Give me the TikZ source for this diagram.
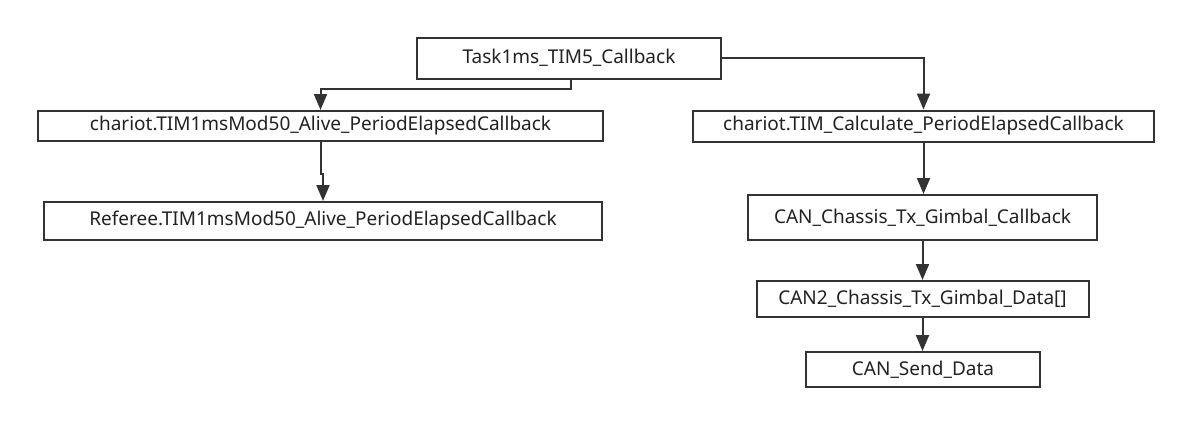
\documentclass[tikz,border=0pt]{standalone}
\usepackage{fontspec}
\setmainfont{Noto Sans}
\usetikzlibrary{arrows.meta}
\definecolor{ln}{HTML}{333333}
\definecolor{tx}{HTML}{222222}
\tikzset{
  box/.style={draw=ln, line width=2pt, fill=white, inner sep=0pt, text=tx, font=\fontsize{19}{21}\selectfont},
  arr/.style={draw=ln, line width=2pt, -{Triangle[length=16pt,width=13pt]}}
}
\begin{document}
\begin{tikzpicture}[x=1pt,y=1pt]
\useasboundingbox (0,0) rectangle (1190,-424);
\node[box, minimum width=304pt, minimum height=41pt] (task) at (569,-58) {Task1ms\_TIM5\_Callback};
\node[box, minimum width=565pt, minimum height=30pt] (cha) at (320.5,-126) {chariot.TIM1msMod50\_Alive\_PeriodElapsedCallback};
\node[box, minimum width=558pt, minimum height=38pt] (ref) at (323,-221) {Referee.TIM1msMod50\_Alive\_PeriodElapsedCallback};
\node[box, minimum width=461pt, minimum height=31pt] (calc) at (923.5,-126) {chariot.TIM\_Calculate\_PeriodElapsedCallback};
\node[box, minimum width=349pt, minimum height=45pt] (canc) at (922.5,-217.5) {CAN\_Chassis\_Tx\_Gimbal\_Callback};
\node[box, minimum width=332pt, minimum height=36pt] (can2) at (922.5,-299) {CAN2\_Chassis\_Tx\_Gimbal\_Data[]};
\node[box, minimum width=234pt, minimum height=35pt] (send) at (923,-369.5) {CAN\_Send\_Data};
\draw[arr] ([xshift=2pt]task.south) -- ++(0,-9) -| (cha.north);
\draw[arr] (cha.south) -- ++(0,-32) -| (ref.north);
\draw[arr] (task.east) -| (calc.north);
\draw[arr] (calc.south) -- (calc.south |- canc.north);
\draw[arr] (canc.south) -- (canc.south |- can2.north);
\draw[arr] (can2.south) -- (can2.south |- send.north);
\end{tikzpicture}
\end{document}
